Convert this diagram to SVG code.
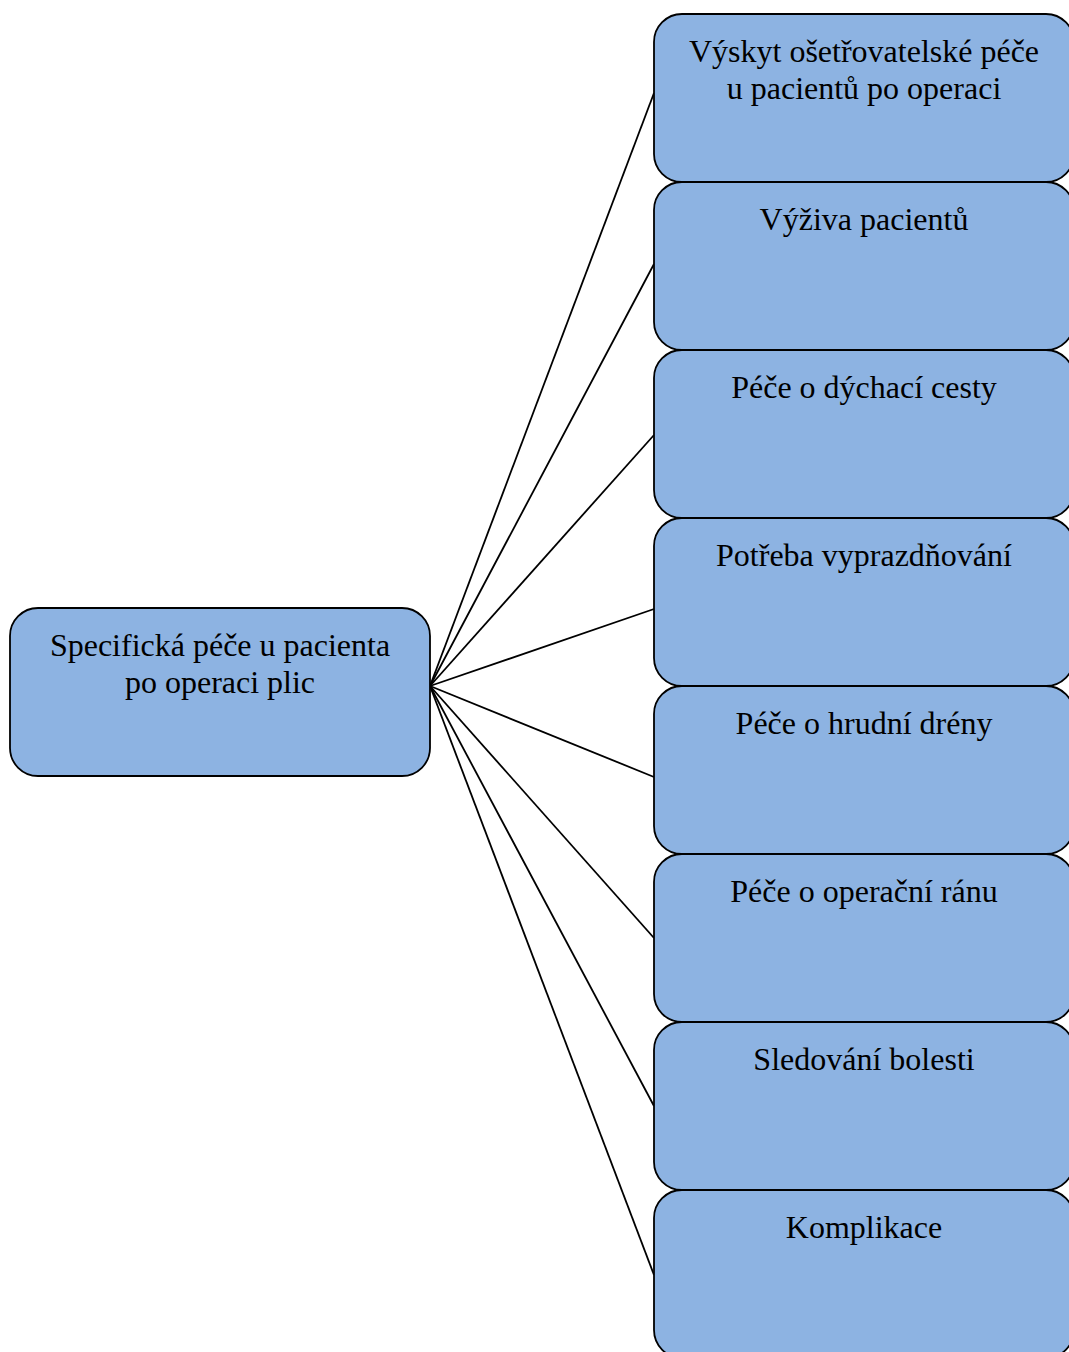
<svg xmlns="http://www.w3.org/2000/svg" width="1069" height="1352" viewBox="0 0 1069 1352">
<style>
.box{fill:#8DB3E2;stroke:#000;stroke-width:1.8}
.t{font-family:"Liberation Serif","Times New Roman",serif;font-size:32px;fill:#000;text-anchor:middle}
.c{stroke:#000;stroke-width:1.8;fill:none}
</style>
<rect width="1069" height="1352" fill="#fff"/>
<g id="connectors">
<line class="c" x1="430" y1="686" x2="654" y2="93"/>
<line class="c" x1="430" y1="686" x2="654" y2="264"/>
<line class="c" x1="430" y1="686" x2="654" y2="435"/>
<line class="c" x1="430" y1="686" x2="654" y2="609"/>
<line class="c" x1="430" y1="686" x2="654" y2="777"/>
<line class="c" x1="430" y1="686" x2="654" y2="938"/>
<line class="c" x1="430" y1="686" x2="654" y2="1106"/>
<line class="c" x1="430" y1="686" x2="654" y2="1275"/>
</g>
<g id="root">
<rect class="box" x="10" y="608" width="420" height="168" rx="28"/>
<text class="t" x="220" y="656">Specifická péče u pacienta</text>
<text class="t" x="220" y="693">po operaci plic</text>
</g>
<g id="n1">
<rect class="box" x="654" y="14" width="420" height="168" rx="28"/>
<text class="t" x="864" y="62">Výskyt ošetřovatelské péče</text>
<text class="t" x="864" y="99">u pacientů po operaci</text>
</g>
<g id="n2">
<rect class="box" x="654" y="182" width="420" height="168" rx="28"/>
<text class="t" x="864" y="230">Výživa pacientů</text>
</g>
<g id="n3">
<rect class="box" x="654" y="350" width="420" height="168" rx="28"/>
<text class="t" x="864" y="398">Péče o dýchací cesty</text>
</g>
<g id="n4">
<rect class="box" x="654" y="518" width="420" height="168" rx="28"/>
<text class="t" x="864" y="566">Potřeba vyprazdňování</text>
</g>
<g id="n5">
<rect class="box" x="654" y="686" width="420" height="168" rx="28"/>
<text class="t" x="864" y="734">Péče o hrudní drény</text>
</g>
<g id="n6">
<rect class="box" x="654" y="854" width="420" height="168" rx="28"/>
<text class="t" x="864" y="902">Péče o operační ránu</text>
</g>
<g id="n7">
<rect class="box" x="654" y="1022" width="420" height="168" rx="28"/>
<text class="t" x="864" y="1070">Sledování bolesti</text>
</g>
<g id="n8">
<rect class="box" x="654" y="1190" width="420" height="168" rx="28"/>
<text class="t" x="864" y="1238">Komplikace</text>
</g>
</svg>
